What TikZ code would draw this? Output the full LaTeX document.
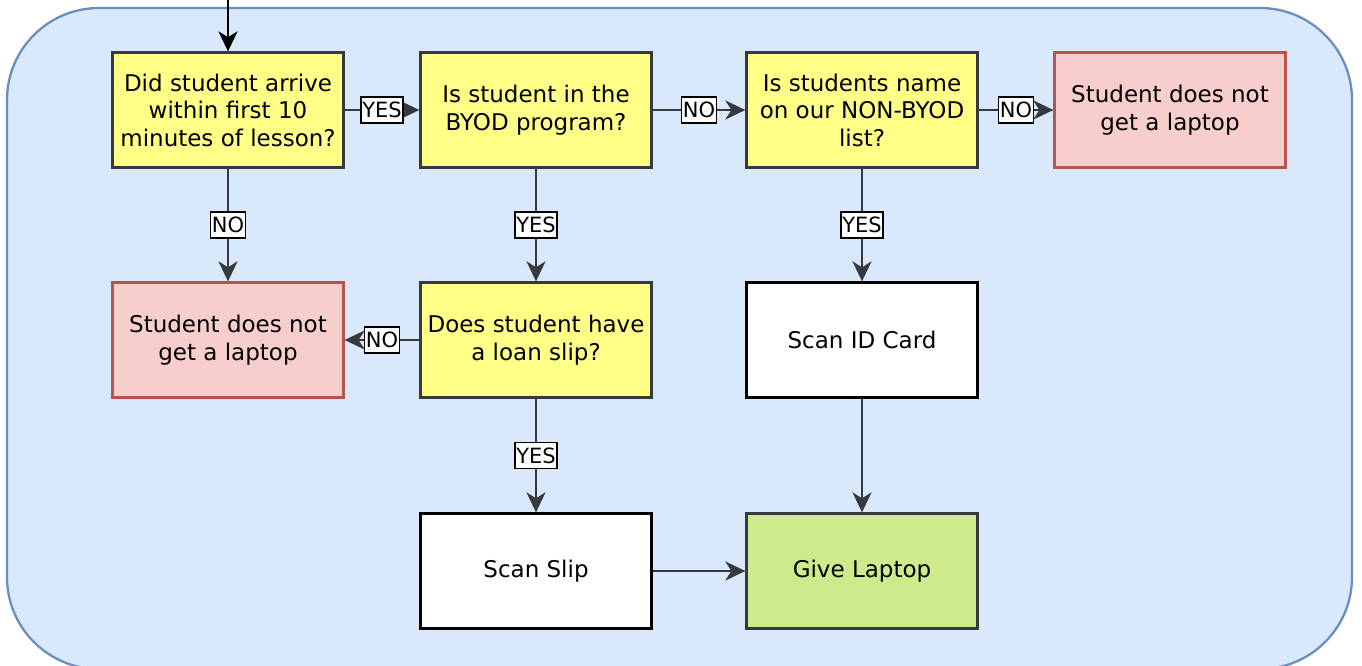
\documentclass[tikz,border=0pt]{standalone}
\usepackage{fontspec}
\setmainfont{DejaVu Sans}
\usetikzlibrary{arrows.meta}

\definecolor{bgfill}{HTML}{DAE8FC}
\definecolor{bgdraw}{HTML}{6C8EBF}
\definecolor{qfill}{HTML}{FFFF88}
\definecolor{qdraw}{HTML}{36393D}
\definecolor{nofill}{HTML}{F8CECC}
\definecolor{nodraw}{HTML}{B85450}
\definecolor{okfill}{HTML}{CDEB8B}
\newcommand{\flowfont}{\fontsize{23}{27.5}\selectfont}
\newcommand{\tagfont}{\fontsize{21}{24}\selectfont}

\begin{document}
\begin{tikzpicture}[x=1pt, y=-1pt]
\tikzstyle{question} = [rectangle, minimum width=231pt, minimum height=115pt, align=center, draw=qdraw, fill=qfill, line width=2.3pt, font=\flowfont]
\tikzstyle{refuse} = [question, draw=nodraw, fill=nofill]
\tikzstyle{process} = [question, draw=black, fill=white]
\tikzstyle{finish} = [question, fill=okfill]
\tikzstyle{tag} = [rectangle, draw=black, fill=white, line width=1.6pt, inner xsep=1.5pt, inner ysep=5pt, font=\tagfont]
\tikzstyle{flowarrow} = [line width=2.6pt, draw=qdraw, -{Stealth[length=20pt, width=19pt, inset=6pt]}]

\useasboundingbox (0,0) rectangle (1362,666);
\draw [fill=bgfill, draw=bgdraw, line width=2.3pt, rounded corners=92pt] (7,8) rectangle (1352,669);

\coordinate (v0) at (228,0);
\node [question] (v1) at (228,110) {Did student arrive\\within first 10\\minutes of lesson?};
\node [question] (v2) at (536,110) {Is student in the\\BYOD program?};
\node [question] (v3) at (862,110) {Is students name\\on our NON-BYOD\\list?};
\node [refuse] (v4) at (1170,110) {Student does not\\get a laptop};
\node [refuse] (v5) at (228,340) {Student does not\\get a laptop};
\node [question] (v6) at (536,340) {Does student have\\a loan slip?};
\node [process] (v7) at (862,340) {Scan ID Card};
\node [process] (v8) at (536,571) {Scan Slip};
\node [finish] (v9) at (862,571) {Give Laptop};

\draw [flowarrow, draw=black] (v0) -- (v1);
\draw [flowarrow] (v1) -- node [tag] {YES} (v2);
\draw [flowarrow] (v2) -- node [tag] {NO} (v3);
\draw [flowarrow] (v3) -- node [tag] {NO} (v4);
\draw [flowarrow] (v1) -- node [tag] {NO} (v5);
\draw [flowarrow] (v2) -- node [tag] {YES} (v6);
\draw [flowarrow] (v3) -- node [tag] {YES} (v7);
\draw [flowarrow] (v6) -- node [tag] {NO} (v5);
\draw [flowarrow] (v6) -- node [tag] {YES} (v8);
\draw [flowarrow] (v8) -- (v9);
\draw [flowarrow] (v7) -- (v9);
\end{tikzpicture}
\end{document}
